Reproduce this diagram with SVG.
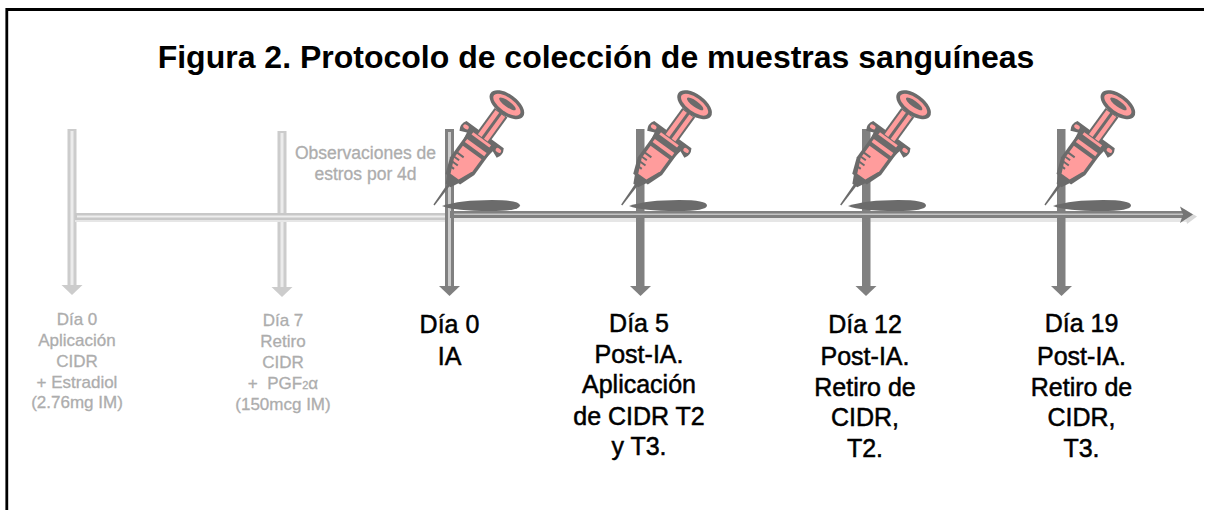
<svg xmlns="http://www.w3.org/2000/svg" width="1205" height="510" viewBox="0 0 1205 510">
<style>
text{font-family:"Liberation Sans",Arial,sans-serif;text-anchor:middle}
.g{font-size:17px;fill:#adadad;stroke:#adadad;stroke-width:.3}
.k{font-size:25px;fill:#000;stroke:#000;stroke-width:.5}
.t{font-size:32px;font-weight:bold;fill:#000}
.d{fill:#6b6b6b}
.p{fill:#ff9c9c}
</style>
<defs>
<g id="syringe">
<g transform="translate(434 205) rotate(36)">
<path class="d" d="M-.7 0 L.7 0 L1.6 -30 L-1.6 -30Z"/>
<path class="d" d="M-3 -24 L3 -24 L9 -36 L16 -78 L23 -75 Q27 -81 23 -87 L-23 -87 Q-27 -81 -23 -75 L-16 -78 L-9 -36Z"/>
<path class="d" d="M-9 -32 L-15 -48 L-15 -78 L15 -78 L15 -48 L9 -32Z"/>
<path class="p" d="M-5 -35 L5 -35 L11.500 -50 L11.500 -65 L-11.500 -65 L-11.500 -50Z"/>
<rect class="p" x="-12" y="-73" width="24" height="4"/>
<path class="d" d="M-11 -42 h6 v2 h-6z M-12 -47 h8 v2 h-8z M-12 -52 h6 v2 h-6z M-12 -57 h8 v2 h-8z"/>
<rect class="p" x="-23" y="-84" width="6" height="4" rx="2"/>
<rect class="p" x="17" y="-84" width="6" height="4" rx="2"/>
<rect class="p" x="-11" y="-82" width="22" height="3"/>
<rect class="d" x="-8" y="-114" width="16" height="30"/>
<rect class="p" x="-6" y="-113" width="4.500" height="30"/>
<rect class="p" x="1.500" y="-113" width="4.500" height="30"/>
<ellipse class="d" cx="0" cy="-124" rx="20" ry="10.500"/>
<ellipse class="p" cx="0" cy="-124" rx="16" ry="7"/>
<ellipse class="d" cx="0" cy="-125" rx="10" ry="3"/>
</g>
</g>
<path id="shadow" class="d" d="M442 206 Q460 200 492 200 Q520 200 520 205.500 Q520 211 490 211 Q455 211 442 206Z"/>
</defs>
<rect width="1205" height="510" fill="#fff"/>
<path d="M6.800 510V9.500H1204" fill="none" stroke="#000" stroke-width="2.800"/>
<g id="connectors">
<rect x="67.500" y="129" width="9" height="156" fill="#ccc"/>
<rect x="70.500" y="131" width="3" height="154" fill="#ececec"/>
<path d="M61.500 285h21L72 295Z" fill="#ccc"/>
<rect x="277.500" y="131" width="9" height="156" fill="#ccc"/>
<rect x="280.500" y="133" width="3" height="154" fill="#ececec"/>
<path d="M271.500 287h21L282 297Z" fill="#ccc"/>
<rect x="75" y="218" width="1115" height="4" fill="#e6e6e6"/>
<rect x="75" y="213" width="375" height="7" fill="#c8c8c8"/>
<rect x="77" y="215.500" width="373" height="2" fill="#eee"/>
<path d="M1184 209 L1197 216.500 L1187 224Z" fill="#d8d8d8"/>
<rect x="445" y="129" width="9" height="157" fill="#808080"/>
<rect x="448" y="132" width="3" height="154" fill="#ccc"/>
<path d="M439 286h21L449.500 296Z" fill="#808080"/>
<rect x="636" y="129" width="8.500" height="157" fill="#808080"/>
<path d="M630 286h21L640.500 296Z" fill="#808080"/>
<rect x="862" y="129" width="8.500" height="157" fill="#808080"/>
<path d="M855.500 286h21L866 296Z" fill="#808080"/>
<rect x="1057" y="129" width="8.500" height="157" fill="#808080"/>
<path d="M1051 286h21L1061.500 296Z" fill="#808080"/>
<rect x="450" y="211" width="735" height="7" fill="#808080"/>
<rect x="454" y="213.500" width="729" height="1.500" fill="#c4c4c4"/>
<path d="M1180 206.500 L1193 214.500 L1180 223 L1183 214.500Z" fill="#757575"/>
</g>
<g id="title"><text class="t" x="596" y="68">Figura 2. Protocolo de colección de muestras sanguíneas</text></g>
<g id="day0-cidr"><text class="g"><tspan x="77" y="325">Día 0</tspan><tspan x="77" y="346">Aplicación</tspan><tspan x="77" y="367">CIDR</tspan><tspan x="77" y="388">+ Estradiol</tspan><tspan x="77" y="408">(2.76mg IM)</tspan></text></g>
<g id="day7-retiro"><text class="g"><tspan x="283" y="326">Día 7</tspan><tspan x="283" y="347">Retiro</tspan><tspan x="283" y="368">CIDR</tspan><tspan x="283" y="389" xml:space="preserve">+  PGF<tspan font-size="11">2</tspan>α</tspan><tspan x="283" y="410">(150mcg IM)</tspan></text></g>
<g id="estros"><text class="g" font-size="17.500" style="font-size:17.500px"><tspan x="365.500" y="159">Observaciones de</tspan><tspan x="365.500" y="180">estros por 4d</tspan></text></g>
<g id="day0-ia"><text class="k"><tspan x="449.500" y="333">Día 0</tspan><tspan x="449.500" y="365">IA</tspan></text><use href="#shadow"/><use href="#syringe"/></g>
<g id="day5"><text class="k"><tspan x="639" y="332">Día 5</tspan><tspan x="639" y="363">Post-IA.</tspan><tspan x="639" y="393">Aplicación</tspan><tspan x="639" y="425">de CIDR T2</tspan><tspan x="639" y="455">y T3.</tspan></text><use href="#shadow" x="187"/><use href="#syringe" x="187.700"/></g>
<g id="day12"><text class="k"><tspan x="865" y="333">Día 12</tspan><tspan x="865" y="365">Post-IA.</tspan><tspan x="865" y="396">Retiro de</tspan><tspan x="865" y="426">CIDR,</tspan><tspan x="865" y="457">T2.</tspan></text><use href="#shadow" x="406"/><use href="#syringe" x="406.700"/></g>
<g id="day19"><text class="k"><tspan x="1081.500" y="332">Día 19</tspan><tspan x="1081.500" y="365">Post-IA.</tspan><tspan x="1081.500" y="396">Retiro de</tspan><tspan x="1081.500" y="426">CIDR,</tspan><tspan x="1081.500" y="457">T3.</tspan></text><use href="#shadow" x="611"/><use href="#syringe" x="611"/></g>
</svg>
